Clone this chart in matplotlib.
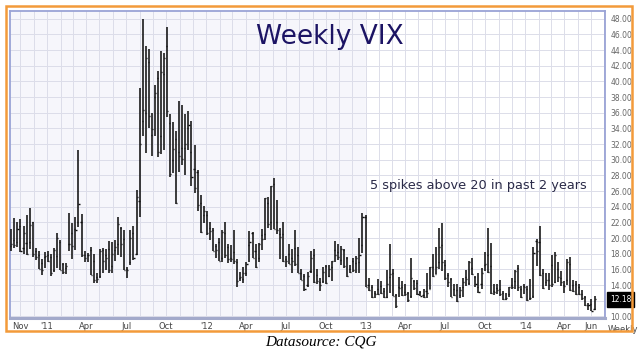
import numpy as np
import pandas as pd
import matplotlib
matplotlib.use("Agg")
import matplotlib.pyplot as plt
import matplotlib.dates as mdates
import matplotlib.transforms as mtransforms
from matplotlib.patches import Rectangle

# Weekly VIX OHLC, weeks starting Mon 2010-10-11
# 2010 (12 weeks)
open_2010 = [19.0, 19.7, 19.5, 21.5, 18.8, 19.4, 19.5, 22.0, 18.3, 17.9, 16.8, 17.6]
high_2010 = [21.2, 22.6, 22.0, 22.4, 21.6, 22.9, 23.9, 22.0, 18.7, 18.4, 17.3, 18.2]
low_2010 = [18.3, 18.7, 18.9, 18.2, 18.0, 17.8, 18.6, 17.6, 17.2, 16.1, 15.3, 16.2]
close_2010 = [19.3, 19.1, 21.2, 18.3, 20.6, 18.0, 21.7, 18.0, 17.6, 16.1, 15.9, 17.75]

# 2011 (52 weeks)
open_2011 = [17.9, 17.6, 15.9, 17.7, 19.5, 16.7, 16.2, 19.2, 20.6, 21.2, 22.0, 22.0, 17.9,
             17.9, 18.5, 17.1, 15.0, 15.1, 18.5, 17.9, 18.6, 16.5, 18.5, 19.2, 21.3, 19.9,
             16.1, 17.0, 20.6, 18.0, 24.8, 35.0, 36.0, 42.5, 33.2, 38.0, 40.5, 33.0, 41.0,
             44.5, 34.7, 30.0, 32.6, 31.0, 31.5, 31.5, 34.0, 31.0, 28.8, 28.5, 24.5, 23.0]
high_2011 = [18.4, 18.0, 18.7, 20.7, 19.8, 16.8, 16.8, 23.2, 21.9, 22.7, 31.3, 23.1, 18.3,
             18.1, 18.9, 18.0, 15.5, 18.6, 18.8, 18.6, 19.6, 19.5, 19.8, 22.7, 21.4, 21.0,
             16.3, 21.0, 21.6, 26.1, 39.2, 48.0, 44.5, 44.1, 36.0, 39.6, 41.4, 43.9, 43.6,
             46.9, 35.8, 34.8, 33.7, 37.5, 37.0, 35.8, 36.2, 35.0, 31.9, 28.7, 25.5, 24.1]
low_2011 = [16.9, 15.2, 15.7, 16.2, 15.9, 15.4, 15.4, 18.3, 17.3, 18.5, 21.4, 17.6, 16.9,
            16.9, 15.3, 14.3, 14.3, 14.9, 15.6, 15.9, 15.5, 15.5, 17.1, 17.8, 17.6, 15.9,
            14.9, 16.6, 17.2, 17.8, 22.7, 33.0, 30.9, 34.0, 30.5, 33.1, 30.4, 30.8, 31.3,
            35.5, 27.8, 28.3, 24.4, 28.4, 29.4, 28.0, 31.3, 26.6, 25.8, 23.5, 20.6, 21.9]
close_2011 = [17.1, 15.5, 18.5, 20.0, 15.9, 15.7, 16.4, 19.2, 19.0, 21.0, 24.4, 17.9, 17.4,
              17.9, 15.3, 14.7, 14.75, 18.4, 17.1, 17.4, 15.9, 17.95, 18.9, 21.85, 19.3, 15.9,
              15.95, 20.0, 17.5, 25.25, 32.0, 36.4, 43.05, 35.6, 33.9, 38.5, 30.98, 41.25, 42.96,
              36.27, 28.24, 31.32, 24.53, 30.5, 30.04, 32.0, 34.47, 27.8, 26.38, 24.29, 20.73, 23.4]

# 2012 (52 weeks)
open_2012 = [22.9, 21.3, 21.0, 19.0, 19.5, 17.5, 20.6, 18.9, 17.5, 18.2, 17.0, 14.9, 14.8,
             15.6, 19.1, 20.6, 18.3, 17.4, 20.4, 20.5, 24.5, 22.0, 26.9, 22.0, 20.5, 20.5,
             17.3, 18.0, 17.5, 18.8, 17.9, 15.6, 15.2, 14.0, 15.8, 17.9, 15.3, 14.4, 14.5,
             16.4, 15.1, 16.3, 18.5, 18.2, 17.2, 18.5, 17.5, 16.0, 17.1, 16.8, 17.0, 19.1]
high_2012 = [23.5, 22.0, 21.3, 19.3, 20.0, 21.0, 22.0, 19.3, 19.1, 21.1, 17.3, 15.7, 16.3,
             16.9, 20.9, 20.8, 19.2, 19.4, 21.2, 25.1, 25.2, 26.7, 27.7, 24.9, 21.3, 22.0,
             17.7, 19.2, 18.6, 21.0, 18.9, 16.0, 15.4, 15.7, 18.3, 18.6, 16.0, 14.9, 16.3,
             16.6, 16.6, 17.1, 19.6, 19.2, 19.0, 18.6, 17.6, 16.6, 17.5, 17.7, 20.0, 23.2]
low_2012 = [20.4, 19.8, 18.3, 17.5, 17.1, 17.0, 17.5, 16.8, 17.0, 16.7, 13.7, 14.5, 14.3,
            15.1, 16.9, 17.4, 16.2, 16.9, 18.5, 19.8, 21.3, 21.1, 21.2, 20.5, 17.3, 17.0,
            16.3, 16.7, 15.5, 16.4, 15.6, 14.7, 13.3, 13.7, 15.6, 14.3, 14.1, 13.3, 14.3,
            14.1, 15.0, 14.5, 16.9, 17.2, 16.6, 16.2, 15.0, 15.5, 15.7, 15.6, 15.6, 18.1]
close_2012 = [20.6, 20.9, 18.3, 18.5, 17.1, 20.8, 17.8, 17.3, 17.3, 17.1, 14.5, 15.0, 15.5,
              16.7, 19.55, 17.4, 16.3, 19.2, 19.9, 25.1, 21.8, 26.7, 21.2, 21.1, 20.1, 17.1,
              17.1, 16.7, 17.1, 16.7, 15.6, 14.7, 13.45, 15.2, 17.5, 14.4, 14.5, 13.98, 15.7,
              14.3, 16.1, 17.06, 17.8, 17.6, 18.6, 16.4, 15.1, 15.7, 15.9, 17.4, 17.8, 22.7]

# 2013 (52 weeks)
open_2013 = [22.7, 14.0, 13.8, 13.0, 13.5, 13.9, 13.3, 12.5, 15.0, 15.5, 12.8, 13.8, 13.8,
             13.1, 13.0, 12.6, 14.5, 14.3, 13.1, 12.8, 13.2, 13.5, 16.3, 15.4, 16.9, 19.1,
             16.6, 15.3, 14.8, 13.5, 13.4, 12.8, 13.7, 15.0, 14.3, 16.2, 15.0, 13.8, 14.2,
             16.6, 17.8, 16.5, 13.3, 13.6, 13.5, 13.0, 12.2, 12.9, 14.0, 14.5, 16.2, 13.5]
high_2013 = [22.9, 14.9, 14.0, 13.3, 14.8, 14.5, 13.6, 15.9, 19.3, 16.0, 12.9, 15.0, 14.5,
             14.1, 13.1, 17.5, 14.6, 14.6, 13.3, 13.5, 15.5, 16.3, 18.0, 18.9, 21.3, 21.9,
             17.2, 15.5, 14.9, 14.2, 14.1, 13.8, 14.9, 15.9, 17.1, 17.4, 15.2, 15.5, 16.2,
             18.2, 21.3, 19.4, 14.1, 14.1, 14.6, 13.3, 13.0, 13.8, 14.9, 15.9, 16.6, 13.9]
low_2013 = [13.7, 13.3, 12.4, 12.3, 12.7, 12.9, 12.3, 12.3, 13.0, 12.6, 11.05, 12.5, 12.6,
            12.6, 11.9, 12.4, 13.4, 12.8, 12.6, 12.3, 12.4, 13.5, 15.0, 15.4, 16.0, 15.8,
            14.6, 13.8, 12.5, 12.6, 11.9, 12.3, 12.5, 13.9, 14.0, 15.3, 13.7, 13.0, 13.5,
            15.8, 15.6, 12.9, 12.8, 12.9, 12.6, 12.1, 12.1, 12.5, 13.5, 13.5, 13.3, 12.3]
close_2013 = [13.8, 13.4, 12.5, 12.9, 12.9, 13.0, 12.5, 14.2, 15.4, 12.6, 11.3, 13.6, 12.7,
              12.9, 12.1, 14.97, 13.6, 12.85, 12.6, 12.5, 13.0, 16.3, 15.1, 16.3, 18.9, 16.9,
              14.9, 14.4, 12.5, 12.7, 11.98, 13.4, 14.4, 14.8, 17.0, 15.4, 14.2, 13.1, 15.5,
              16.7, 15.7, 13.0, 13.1, 13.4, 12.9, 12.2, 12.3, 13.7, 13.8, 15.8, 13.8, 12.5]

# 2014 (24 weeks)
open_2014 = [13.9, 13.5, 12.3, 12.6, 19.6, 19.5, 15.6, 14.4, 14.6, 16.6, 14.4, 16.1,
             14.9, 14.0, 14.6, 16.7, 14.0, 14.1, 13.7, 12.9, 12.5, 11.4, 11.6, 10.9]
high_2014 = [14.2, 13.9, 14.8, 18.9, 19.9, 21.5, 16.0, 15.5, 15.5, 17.9, 18.2, 16.9,
             15.8, 14.5, 17.3, 17.6, 14.7, 14.5, 14.2, 13.4, 12.6, 11.7, 12.2, 12.6]
low_2014 = [12.9, 12.0, 12.1, 12.3, 16.5, 15.2, 13.5, 13.9, 13.4, 13.8, 14.3, 14.4,
            13.9, 13.0, 14.0, 13.3, 13.1, 12.8, 12.8, 12.1, 11.3, 10.8, 10.7, 10.8]
close_2014 = [13.8, 12.1, 12.4, 18.1, 18.4, 15.3, 13.6, 14.7, 14.0, 14.1, 17.8, 15.0,
              14.4, 13.9, 17.0, 13.4, 13.3, 12.9, 12.9, 12.4, 11.4, 11.4, 10.73, 12.18]

opens = np.array(open_2010 + open_2011 + open_2012 + open_2013 + open_2014)
highs = np.array(high_2010 + high_2011 + high_2012 + high_2013 + high_2014)
lows = np.array(low_2010 + low_2011 + low_2012 + low_2013 + low_2014)
closes = np.array(close_2010 + close_2011 + close_2012 + close_2013 + close_2014)
weeks = pd.date_range("2010-10-11", periods=len(highs), freq="7D")

tick_dates = ["2010-11-01", "2011-01-01", "2011-04-01", "2011-07-01", "2011-10-01",
              "2012-01-01", "2012-04-01", "2012-07-01", "2012-10-01", "2013-01-01",
              "2013-04-01", "2013-07-01", "2013-10-01", "2014-01-01", "2014-04-01", "2014-06-01"]
tick_labels = ["Nov", "'11", "Apr", "Jul", "Oct", "'12", "Apr", "Jul", "Oct", "'13",
               "Apr", "Jul", "Oct", "'14", "Apr", "Jun"]
last_value = "12.18"

fig = plt.figure(figsize=(6.41, 3.53), dpi=100)
fig.patch.set_facecolor("white")
ax = fig.add_axes([10 / 641, 1 - 318 / 353, 595 / 641, 307 / 353])
ax.set_facecolor("#f6f6fb")

x = mdates.date2num(weeks)
ax.axvspan(mdates.date2num(pd.Timestamp("2013-01-01")), x[-1] + 30, color="white", zorder=0)

# OHLC bars
ax.vlines(x, lows, highs, color="#111111", lw=1.15, zorder=3)
ax.hlines(opens, x - 2.5, x, color="#111111", lw=1.0, zorder=3)
ax.hlines(closes, x, x + 2.5, color="#111111", lw=1.0, zorder=3)

ax.set_xlim(mdates.date2num(pd.Timestamp("2010-10-08")), mdates.date2num(pd.Timestamp("2014-07-03")))
ax.set_ylim(9.8, 49.0)

# grid
months = pd.date_range("2010-10-01", "2014-07-01", freq="MS")
for m in mdates.date2num(months):
    ax.axvline(m, color="#dcdde9", lw=0.7, zorder=1)
for v in np.arange(10, 50, 2):
    ax.axhline(v, color="#dcdde9", lw=0.7, zorder=1)

ax.set_xticks(mdates.date2num(pd.to_datetime(tick_dates)))
ax.set_xticklabels(tick_labels)
ax.tick_params(axis="x", length=0, pad=3, labelsize=6, labelcolor="#444444")
ax.yaxis.tick_right()
yvals = np.arange(10, 50, 2)
ax.set_yticks(yvals)
# 12.00 is hidden behind the last-value box
ax.set_yticklabels(["" if v == 12 else f"{v:.2f}" for v in yvals])
ax.tick_params(axis="y", length=0, pad=4, labelsize=5.5, labelcolor="#666666")

for side in ["top", "left", "right"]:
    ax.spines[side].set_color("#9aa3d6")
    ax.spines[side].set_linewidth(1.3)
ax.spines["bottom"].set_color("#a3aacb")
ax.spines["bottom"].set_linewidth(2.2)

# last value marker
trans = mtransforms.blended_transform_factory(ax.transAxes, ax.transData)
ax.text(1.008, float(last_value), last_value, transform=trans, fontsize=5.5, color="white",
        va="center", ha="left",
        bbox=dict(boxstyle="square,pad=0.35", fc="black", ec="black"))

ax.text(1.03, -0.022, "Weekly", transform=ax.transAxes, fontsize=6, color="#444444",
        va="top", ha="center")

ax.text(0.538, 0.915, "Weekly VIX", transform=ax.transAxes, fontsize=19, color="#1c1464",
        ha="center", va="center")
ax.text(0.787, 0.43, "5 spikes above 20 in past 2 years", transform=ax.transAxes,
        fontsize=9.3, color="#2a2a48", ha="center", va="center")

# orange frame
fig.patches.append(Rectangle((6 / 641, 1 - 331 / 353), 626 / 641, 325 / 353,
                             transform=fig.transFigure, fill=False, ec="#f39a3a", lw=1.8))

fig.text(0.5, 1 - 342 / 353, "Datasource: CQG", family="Liberation Serif", style="italic",
         fontsize=11, ha="center", va="center", color="black")

fig.savefig("out.png", dpi=100)
